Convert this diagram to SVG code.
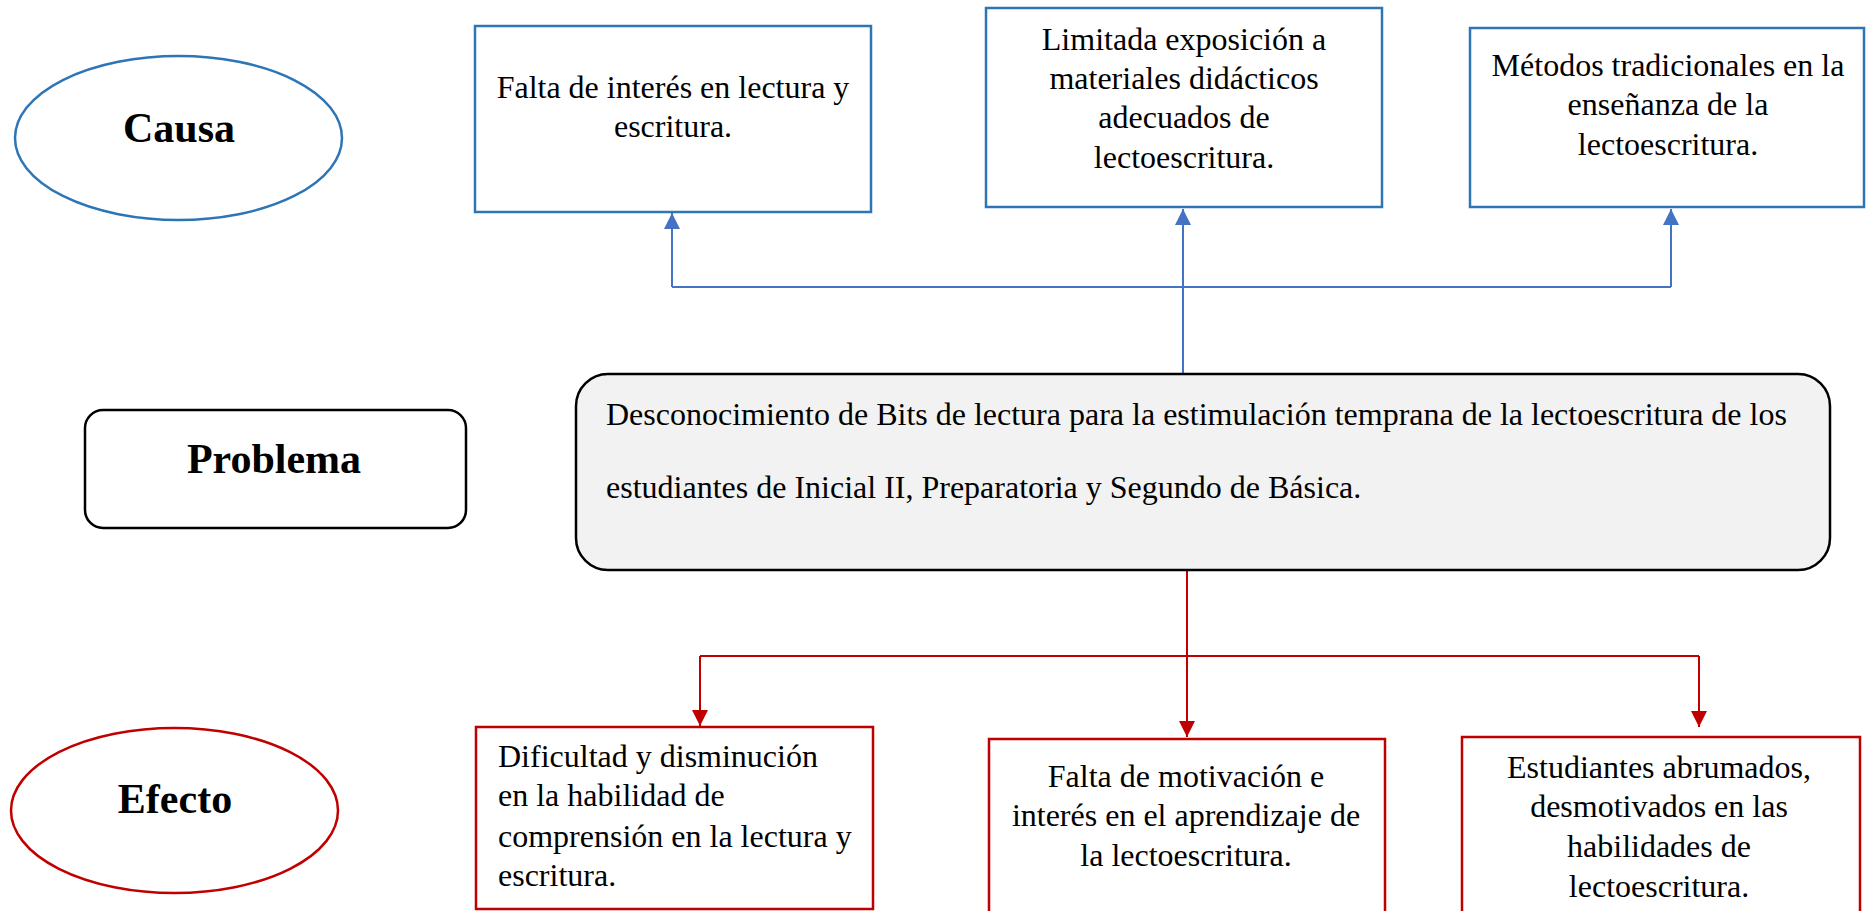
<svg xmlns="http://www.w3.org/2000/svg" width="1868" height="911" viewBox="0 0 1868 911">
<style>
.t{font-family:"Liberation Serif","Times New Roman",serif;font-size:32px;fill:#000}
.c{text-anchor:middle}
.h{font-family:"Liberation Serif","Times New Roman",serif;font-size:42px;font-weight:bold;fill:#000;text-anchor:middle}
.bbox{fill:#fff;stroke:#2E75B6;stroke-width:2.5}
.rbox{fill:#fff;stroke:#C00000;stroke-width:2.5}
.bl{fill:none;stroke:#4472C4;stroke-width:2}
.rl{fill:none;stroke:#C00000;stroke-width:2}
</style>
<defs>
<marker id="ab" markerUnits="userSpaceOnUse" markerWidth="16" markerHeight="16" refX="16" refY="8" orient="auto"><path d="M0,0 L16,8 L0,16 Z" fill="#4472C4"/></marker>
<marker id="ar" markerUnits="userSpaceOnUse" markerWidth="16" markerHeight="16" refX="16" refY="8" orient="auto"><path d="M0,0 L16,8 L0,16 Z" fill="#C00000"/></marker>
</defs>
<rect width="1868" height="911" fill="#fff"/>
<g id="connectors">
<path class="bl" d="M1183,374 V209" marker-end="url(#ab)"/>
<path class="bl" d="M672,287 H1671"/>
<path class="bl" d="M672,287 V213" marker-end="url(#ab)"/>
<path class="bl" d="M1671,287 V209" marker-end="url(#ab)"/>
<path class="rl" d="M1187,570 V737" marker-end="url(#ar)"/>
<path class="rl" d="M700,656 H1699"/>
<path class="rl" d="M700,656 V726" marker-end="url(#ar)"/>
<path class="rl" d="M1699,656 V727" marker-end="url(#ar)"/>
</g>
<g id="causa">
<ellipse cx="178.5" cy="138" rx="163.5" ry="82" fill="#fff" stroke="#2E75B6" stroke-width="2.5"/>
<text class="h" x="179" y="142">Causa</text>
</g>
<g id="problema">
<rect x="85" y="410" width="381" height="118" rx="18" fill="#fff" stroke="#000" stroke-width="2.5"/>
<text class="h" x="274" y="473">Problema</text>
</g>
<g id="efecto">
<ellipse cx="174.5" cy="810.5" rx="163.5" ry="82.5" fill="#fff" stroke="#C00000" stroke-width="2.5"/>
<text class="h" x="175" y="813">Efecto</text>
</g>
<g id="causa1">
<rect class="bbox" x="475" y="26" width="396" height="186"/>
<text class="t c" x="673"><tspan x="673" y="98">Falta de interés en lectura y</tspan><tspan x="673" y="137">escritura.</tspan></text>
</g>
<g id="causa2">
<rect class="bbox" x="986" y="8" width="396" height="199"/>
<text class="t c"><tspan x="1184" y="50">Limitada exposición a</tspan><tspan x="1184" y="89">materiales didácticos</tspan><tspan x="1184" y="128">adecuados de</tspan><tspan x="1184" y="168">lectoescritura.</tspan></text>
</g>
<g id="causa3">
<rect class="bbox" x="1470" y="28" width="394" height="179"/>
<text class="t c"><tspan x="1668" y="76">Métodos tradicionales en la</tspan><tspan x="1668" y="115">enseñanza de la</tspan><tspan x="1668" y="155">lectoescritura.</tspan></text>
</g>
<g id="problema-central">
<rect x="576" y="374" width="1254" height="196" rx="32" fill="#F2F2F2" stroke="#000" stroke-width="2.5"/>
<text class="t"><tspan x="606" y="425">Desconocimiento de Bits de lectura para la estimulación temprana de la lectoescritura de los</tspan><tspan x="606" y="498">estudiantes de Inicial II, Preparatoria y Segundo de Básica.</tspan></text>
</g>
<g id="efecto1">
<rect class="rbox" x="476" y="727" width="397" height="182"/>
<text class="t"><tspan x="498" y="767">Dificultad y disminución</tspan><tspan x="498" y="806">en la habilidad de</tspan><tspan x="498" y="847">comprensión en la lectura y</tspan><tspan x="498" y="886">escritura.</tspan></text>
</g>
<g id="efecto2">
<rect class="rbox" x="989" y="739" width="396" height="200"/>
<text class="t c"><tspan x="1186" y="787">Falta de motivación e</tspan><tspan x="1186" y="826">interés en el aprendizaje de</tspan><tspan x="1186" y="866">la lectoescritura.</tspan></text>
</g>
<g id="efecto3">
<rect class="rbox" x="1462" y="737" width="398" height="200"/>
<text class="t c"><tspan x="1659" y="778">Estudiantes abrumados,</tspan><tspan x="1659" y="817">desmotivados en las</tspan><tspan x="1659" y="857">habilidades de</tspan><tspan x="1659" y="897">lectoescritura.</tspan></text>
</g>
</svg>
